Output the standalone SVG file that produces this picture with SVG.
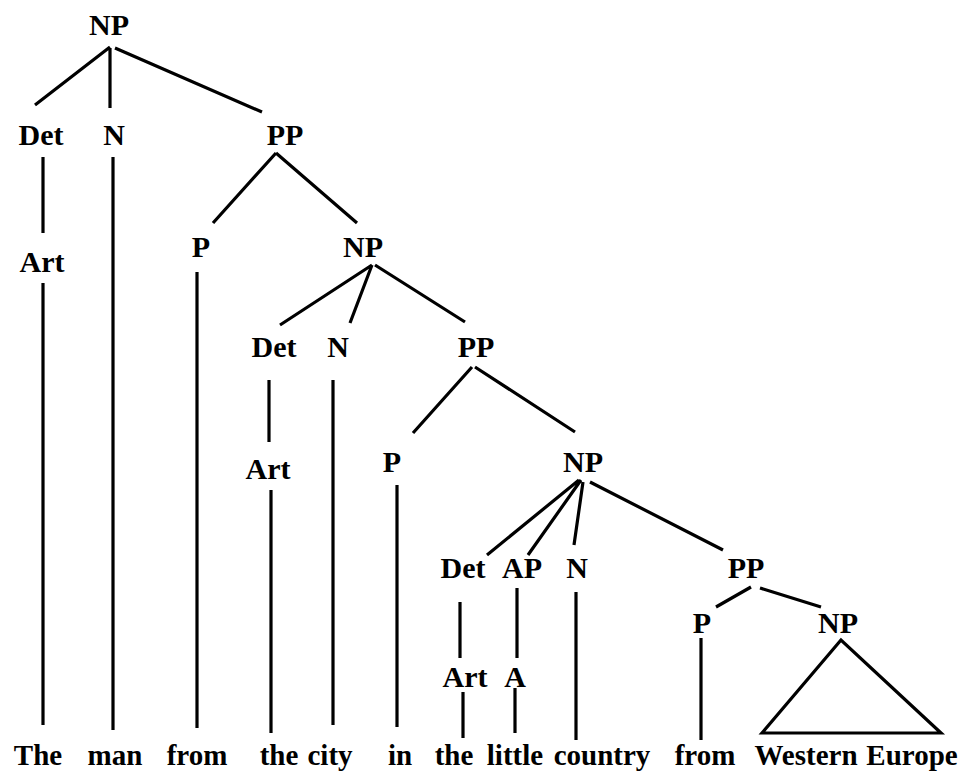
<svg xmlns="http://www.w3.org/2000/svg" width="959" height="779" viewBox="0 0 959 779">
<style>
text{font-family:'Liberation Serif','DejaVu Serif',serif;font-size:30px;font-weight:bold;fill:#000;text-anchor:middle}
#words text{font-size:29px}
.e{stroke:#000;stroke-width:3.2;fill:none;stroke-linecap:butt}
</style>
<rect width="959" height="779" fill="#fff"/>
<g id="connectors" class="e">
<path d="M110 47L35 105M110 48V108M115 48L262 112"/>
<path d="M43 157V233M43 283V725M113 157V730"/>
<path d="M276 153L213 223M276 153L357 223M197 272V728"/>
<path d="M372 265L280 325M372 265L350 323M375 265L465 322"/>
<path d="M269 380V442M271 490V733M333 380V725"/>
<path d="M472 367L413 433M475 367L575 432M397 485V727"/>
<path d="M579 480L487 555M581 480L528 555M583 482L574 545M590 482L723 550"/>
<path d="M460 602V658M463 692V738M517 588V658M515 688V733M576 592V740"/>
<path d="M751 587L716 607M760 588L821 607M701 638V740"/>
<path d="M841 640L762 733H941Z"/>
</g>
<g id="np1"><text x="109" y="35">NP</text></g>
<g id="det1"><text x="41" y="145">Det</text></g>
<g id="n1"><text x="114" y="145">N</text></g>
<g id="pp1"><text x="285" y="145">PP</text></g>
<g id="art1"><text x="42" y="272">Art</text></g>
<g id="p1"><text x="201" y="257">P</text></g>
<g id="np2"><text x="363" y="257">NP</text></g>
<g id="det2"><text x="274" y="357">Det</text></g>
<g id="n2"><text x="338" y="357">N</text></g>
<g id="pp2"><text x="476" y="357">PP</text></g>
<g id="art2"><text x="268" y="479">Art</text></g>
<g id="p2"><text x="392" y="472">P</text></g>
<g id="np3"><text x="583" y="472">NP</text></g>
<g id="det3"><text x="463" y="578">Det</text></g>
<g id="ap"><text x="522" y="578">AP</text></g>
<g id="n3"><text x="577" y="578">N</text></g>
<g id="pp3"><text x="746" y="578">PP</text></g>
<g id="art3"><text x="465" y="687">Art</text></g>
<g id="a"><text x="515" y="687">A</text></g>
<g id="p3"><text x="702" y="633">P</text></g>
<g id="np4"><text x="838" y="633">NP</text></g>
<g id="words">
<text x="38" y="765">The</text>
<text x="115" y="765">man</text>
<text x="197" y="765">from</text>
<text x="279" y="765">the</text>
<text x="330" y="765">city</text>
<text x="400" y="765">in</text>
<text x="454" y="765">the</text>
<text x="515" y="765">little</text>
<text x="602" y="765">country</text>
<text x="705" y="765">from</text>
<text x="806" y="765">Western</text>
<text x="912" y="765">Europe</text>
</g>
</svg>
